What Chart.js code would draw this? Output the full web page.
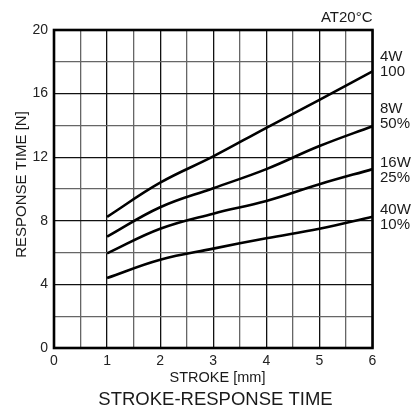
<!DOCTYPE html>
<html>
<head>
<meta charset="utf-8">
<script src="https://cdn.jsdelivr.net/npm/chart.js@4"></script>
<style>
html,body{margin:0;padding:0;background:#fff;}
#wrap{width:414px;height:410px;}
</style>
</head>
<body>
<div id="wrap"><canvas id="c" width="414" height="410"></canvas></div>
<script>
// ---- data ----
const strokeMM = [1, 2, 3, 4, 5, 6];
const resp4W   = [8.25, 10.4, 12.05, 13.85, 15.6, 17.4];
const resp8W   = [7.0, 8.85, 10.05, 11.25, 12.7, 13.95];
const resp16W  = [5.95, 7.5, 8.45, 9.25, 10.3, 11.25];
const resp40W  = [4.4, 5.55, 6.25, 6.9, 7.5, 8.25];
const seriesNames = [["4W", "100"], ["8W", "50%"], ["16W", "25%"], ["40W", "10%"]];
const seriesLabelAt = [18.3, 15.03, 11.64, 8.68];
const xTickLabels = ["0", "1", "2", "3", "4", "5", "6"];
const yTickLabels = ["0", "4", "8", "12", "16", "20"];
const chartTitle = "STROKE-RESPONSE TIME";
const xTitle = "STROKE [mm]";
const yTitle = "RESPONSE TIME [N]";
const noteText = "AT20°C";

const FONT = "'Liberation Sans', Arial, sans-serif";
const allSeries = [resp4W, resp8W, resp16W, resp40W];

const datasets = allSeries.map((s, i) => ({
  label: seriesNames[i].join(" "),
  data: strokeMM.map((x, j) => ({x: x, y: s[j]})),
  borderColor: '#000',
  borderWidth: 2.6,
  pointRadius: 0,
  fill: false,
  tension: 0.4
}));

const decor = {
  id: 'decor',
  afterDraw(chart) {
    const ctx = chart.ctx;
    const a = chart.chartArea;
    const ys = chart.scales.y;
    ctx.save();
    ctx.strokeStyle = '#000';
    ctx.lineWidth = 2.6;
    ctx.strokeRect(a.left, a.top, a.right - a.left, a.bottom - a.top);

    ctx.fillStyle = '#1a1a1a';
    ctx.font = "15px " + FONT;
    ctx.textAlign = 'right';
    ctx.textBaseline = 'middle';
    ctx.fillText(noteText, a.right, 18);

    ctx.textAlign = 'left';
    seriesNames.forEach((pair, i) => {
      const py = ys.getPixelForValue(seriesLabelAt[i]);
      ctx.fillText(pair[0], a.right + 7.5, py);
      ctx.fillText(pair[1], a.right + 7.5, py + 15);
    });

    ctx.textAlign = 'center';
    ctx.font = "14.5px " + FONT;
    ctx.fillText(xTitle, 217.5, 378);

    ctx.font = "18.5px " + FONT;
    ctx.fillText(chartTitle, 215.5, 400);

    ctx.save();
    ctx.translate(21.5, 184.5);
    ctx.rotate(-Math.PI / 2);
    ctx.font = "15px " + FONT;
    ctx.fillText(yTitle, 0, 0);
    ctx.restore();
    ctx.restore();
  }
};

new Chart(document.getElementById('c'), {
  type: 'line',
  data: { datasets: datasets },
  options: {
    responsive: false,
    animation: false,
    devicePixelRatio: 1,
    layout: { padding: { top: 30, right: 41.5, left: 0, bottom: 0 } },
    plugins: { legend: { display: false }, tooltip: { enabled: false }, title: { display: false } },
    scales: {
      x: {
        type: 'linear', min: 0, max: 6,
        afterFit(s) { s.height = 62; },
        ticks: {
          stepSize: 0.5, autoSkip: false, maxRotation: 0, padding: 5,
          color: '#222', font: { family: FONT, size: 14 },
          callback: (v) => Number.isInteger(v) ? xTickLabels[v] : ''
        },
        grid: {
          drawTicks: false, lineWidth: 1.3,
          color: (c) => (c.tick && Number.isInteger(c.tick.value)) ? '#111' : '#666'
        },
        border: { display: false }
      },
      y: {
        type: 'linear', min: 0, max: 20,
        afterFit(s) { s.width = 54; },
        ticks: {
          stepSize: 2, autoSkip: false, padding: 6,
          color: '#222', font: { family: FONT, size: 14 },
          callback: (v) => (v % 4 === 0) ? yTickLabels[v / 4] : ''
        },
        grid: {
          drawTicks: false, lineWidth: 1.3,
          color: (c) => (c.tick && c.tick.value % 4 === 0) ? '#111' : '#666'
        },
        border: { display: false }
      }
    }
  },
  plugins: [decor]
});
</script>
</body>
</html>
